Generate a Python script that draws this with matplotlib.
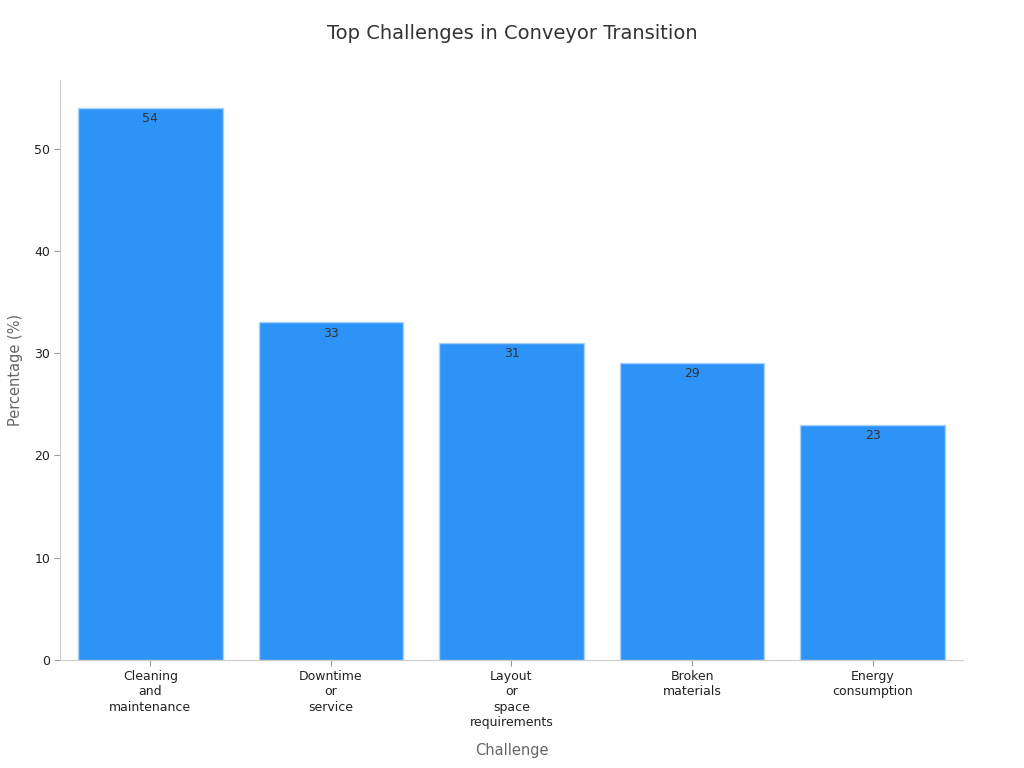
import matplotlib
matplotlib.use('Agg')
import matplotlib.pyplot as plt

challenges = ["Cleaning\nand\nmaintenance", "Downtime\nor\nservice",
              "Layout\nor\nspace\nrequirements", "Broken\nmaterials",
              "Energy\nconsumption"]
percentages = [54, 33, 31, 29, 23]

plt.rcParams['font.family'] = ['DejaVu Sans']
fig = plt.figure(figsize=(10.24, 7.68), dpi=100)
ax = fig.add_axes([0.0586, 0.1406, 0.8818, 0.7552])

x = range(len(challenges))
bars = ax.bar(x, percentages, width=0.8, color="#2E93F7", edgecolor="#a9d2fb", linewidth=1)
for b, v in zip(bars, percentages):
    ax.text(b.get_x() + b.get_width() / 2, v - 0.4, str(v), ha='center', va='top',
            fontsize=9, color="#333333")

ax.set_xlim(-0.5, 4.5)
ax.set_ylim(0, 56.7)
ax.set_xticks(list(x))
ax.set_xticklabels(challenges, fontsize=9, color="#222222", linespacing=1.25)
ax.set_yticks([0, 10, 20, 30, 40, 50])
ax.tick_params(axis='y', labelsize=9, colors="#222222", length=4, color="#999999", pad=3)
ax.tick_params(axis='x', length=4, color="#999999", pad=3)

for s in ['top', 'right']:
    ax.spines[s].set_visible(False)
for s in ['left', 'bottom']:
    ax.spines[s].set_color("#cccccc")

ax.set_xlabel("Challenge", fontsize=10.5, color="#666666", labelpad=10)
ax.set_ylabel("Percentage (%)", fontsize=10.5, color="#666666", labelpad=8)
fig.text(0.5, 0.957, "Top Challenges in Conveyor Transition", ha='center', va='center',
         fontsize=14, color="#333333")

fig.savefig("out.png", dpi=100)
